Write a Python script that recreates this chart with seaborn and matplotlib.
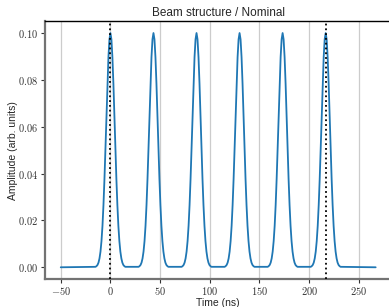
import numpy as np
import pandas as pd
import seaborn as sns
import matplotlib
matplotlib.use('Agg')
import matplotlib.pyplot as plt
from matplotlib.ticker import FuncFormatter

# 脉冲中心 (ns)
centers = [0.0, 43.33, 86.67, 130.0, 173.33, 216.67]
# 单个脉冲形状：相对中心的偏移 (ns) 与幅度
offsets = [-15, -14, -13, -12, -11, -10, -9, -8, -7, -6, -5, -4, -3, -2, -1, 0,
           1, 2, 3, 4, 5, 6, 7, 8, 9, 10, 11, 12, 13, 14, 15]
profile = [0.0002, 0.0005, 0.0010, 0.0020, 0.0038, 0.0067, 0.0112, 0.0177, 0.0266,
           0.0378, 0.0509, 0.0649, 0.0784, 0.0897, 0.0973, 0.1000, 0.0973, 0.0897,
           0.0784, 0.0649, 0.0509, 0.0378, 0.0266, 0.0177, 0.0112, 0.0067, 0.0038,
           0.0020, 0.0010, 0.0005, 0.0002]
# 时间窗口
t_start, t_end = -50.0, 267.0
# 竖直点线位置
markers = [0.0, 216.67]

# 组装数据表
ts = [t_start]
ys = [0.0]
for c in centers:
    for o, a in zip(offsets, profile):
        ts.append(c + o)
        ys.append(a)
ts.append(t_end)
ys.append(0.0)
df = pd.DataFrame({"t": ts, "amp": ys})

sns.set_style("ticks")
plt.rcParams['font.family'] = ['Liberation Sans', 'DejaVu Sans']
plt.rcParams['mathtext.fontset'] = 'cm'

fig = plt.figure(figsize=(3.89, 3.07), dpi=100)
ax = fig.add_axes([0.1157, 0.0912, 0.8905, 0.8394])

sns.lineplot(data=df, x="t", y="amp", ax=ax, color="#1f77b4", lw=1.3, sort=False)
for m in markers:
    ax.axvline(m, color="black", ls=":", lw=1.3, zorder=3)

ax.set_xticks([-50, 0, 50, 100, 150, 200, 250])
ax.set_yticks([0.0, 0.02, 0.04, 0.06, 0.08, 0.10])
ax.xaxis.grid(True, color="0.8", lw=0.9)
ax.set_axisbelow(True)

ax.xaxis.set_major_formatter(FuncFormatter(lambda v, p: f"${v:.0f}$"))
ax.yaxis.set_major_formatter(FuncFormatter(lambda v, p: f"${v:.2f}$"))
ax.tick_params(direction="out", length=3, width=0.8, labelsize=7.5, colors="0.2")
ax.tick_params(axis="x", pad=1.2)
ax.tick_params(axis="y", pad=2)

for s in ["left", "bottom"]:
    ax.spines[s].set_color("0.45")
    ax.spines[s].set_linewidth(1.6)
ax.spines["top"].set_color("black")
ax.spines["top"].set_linewidth(1.0)
ax.spines["right"].set_visible(False)

ax.set_title("Beam structure / Nominal", fontsize=8.5, pad=3.5)
ax.set_xlabel("Time (ns)", fontsize=7.5, labelpad=0.5)
ax.set_ylabel("Amplitude (arb. units)", fontsize=7.5, labelpad=0)

fig.savefig("out.png", dpi=100)
